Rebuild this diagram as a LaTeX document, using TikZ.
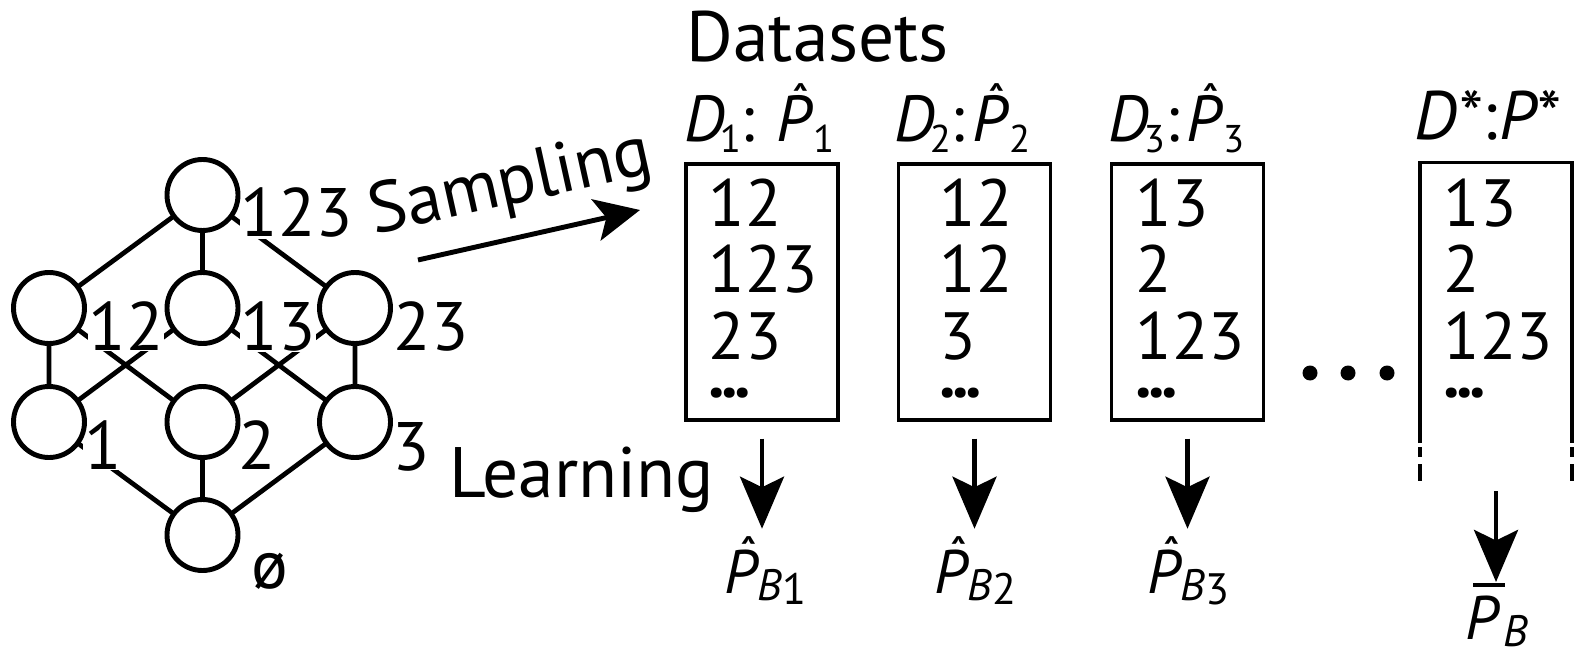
\documentclass[tikz,border=0pt]{standalone}
\usepackage{fontspec}
\setmainfont{PT Sans}
\usetikzlibrary{arrows.meta,calc}
\newcommand\hatP{\ooalign{\textit{P}\cr\hidewidth\kern0.2em\raisebox{0.42em}{\fontsize{12}{12}\selectfont\bfseries\symbol{"02C6}}\hidewidth\cr}}
\newcommand\barP{\ooalign{\textit{P}\cr\kern0.12em\rule[0.84em]{0.52em}{1.1pt}\cr}}
\newcommand\sbx[1]{\raisebox{-0.16em}{\fontsize{11}{11}\selectfont #1}}
\newcommand\sbb[1]{\raisebox{-2pt}{\fontsize{12.5}{12.5}\selectfont #1}}
\begin{document}
\begin{tikzpicture}[x=0.01cm,y=-0.01cm,
  vtx/.style={circle,minimum size=0.71cm,inner sep=0pt},
  ring/.style={line width=1.4pt},
  edge/.style={line width=1.35pt},
  lab/.style={fill=white,inner sep=0.3pt,font=\fontsize{19.5}{19.5}\selectfont},
  box/.style={draw,line width=0.95pt,minimum width=1.52cm,minimum height=2.56cm,inner sep=0pt},
  item/.style={anchor=base west,inner sep=0pt,font=\fontsize{19}{19}\selectfont},
  head/.style={anchor=base west,inner sep=0pt,font=\fontsize{18.5}{18.5}\selectfont},
  res/.style={anchor=base west,inner sep=0pt,font=\fontsize{17.5}{17.5}\selectfont},
  word/.style={anchor=base west,inner sep=0pt,font=\fontsize{20.3}{20.3}\selectfont},
  arr/.style={line width=1.3pt,-{Stealth[length=14.8pt,width=12.5pt,inset=3pt]}},
  sarr/.style={line width=1.4pt,-{Stealth[length=12.8pt,width=12pt,inset=3pt]}}]
\useasboundingbox (0,0) rectangle (1583,655);

% lattice
\node[vtx] (v123) at (202.5,195) {};
\node[vtx] (v12) at (49,308) {};
\node[vtx] (v13) at (202.5,308) {};
\node[vtx] (v23) at (355,308) {};
\node[vtx] (v1) at (49,422) {};
\node[vtx] (v2) at (202.5,422) {};
\node[vtx] (v3) at (355,422) {};
\node[vtx] (v0) at (202.5,535) {};
\draw[edge] (v123)--(v12) (v123)--(v13) (v123)--(v23)
  (v12)--(v1) (v12)--(v2) (v13)--(v1) (v13)--(v3)
  (v23)--(v2) (v23)--(v3) (v1)--(v0) (v2)--(v0) (v3)--(v0);
\node[lab] (l123) at (297,213) {123};
\node[lab] (l12) at (126,326) {12};
\node[lab] (l13) at (278,326) {13};
\node[lab] (l23) at (431,326) {23};
\node[lab] (l1) at (103,445) {1};
\node[lab] (l2) at (257,445) {2};
\node[lab] (l3) at (411,447) {3};
\node[lab] (l0) at (270,571) {ø};
\foreach \v in {v123,v12,v13,v23,v1,v2,v3,v0}
  \draw[ring] (\v.center) circle (35.5);

% sampling
\node[word,rotate=12.5] (samp) at (374,235) {Sampling};
\coordinate (s0) at (418,260);
\coordinate (s1) at (640,210);
\draw[sarr] (s0) -- (s1);

% datasets
\node[word] (ds) at (686,62) {Datasets};
\node[head] (h1) at (684,142) {\textit{D}\kern-1.5pt\sbx{1}:\kern6pt\hatP\sbx{1}};
\node[head] (h2) at (894,142) {\textit{D}\kern-1.5pt\sbx{2}:\kern2pt\hatP\sbx{2}};
\node[head] (h3) at (1108,142) {\textit{D}\kern-1.5pt\sbx{3}:\kern2pt\hatP\sbx{3}};
\node[head,font=\fontsize{19.5}{19.5}\selectfont] (h4) at (1414,140) {\textit{D*}\kern0.5pt:\kern0.5pt\textit{P*}};

\node[box] (b1) at (762,292) {};
\node[box] (b2) at (974.5,292) {};
\node[box] (b3) at (1187.5,292) {};
\draw[line width=0.95pt] (1420,443) -- (1420,162.5) -- (1572,162.5) -- (1572,443);
\draw[line width=0.95pt] (1420,447)--(1420,457) (1420,464)--(1420,481)
  (1572,447)--(1572,457) (1572,464)--(1572,481);
\coordinate (b4) at (1496,420);

\foreach \n/\x/\a/\b/\c in {1/708/12/123/23, 2/939/12/12/3, 3/1135/13/2/123, 4/1443/13/2/123}{
  \node[item] (t\n-a) at (\x,227) {\a};
  \node[item] (t\n-b) at (\x,293) {\b};
  \node[item] (t\n-c) at (\x,360) {\c};
  \node[item] (t\n-d) at (\x,397) {\textbf{.\kern-1pt.\kern-1pt.}};
}
\fill (1310,373) circle (7.5) (1348,373) circle (7.5) (1387,373) circle (7.5);

% learning
\node[word] (learn) at (449,497) {Learning};
\draw[arr] ($(b1.south)+(0,17)$) -- ($(b1.south)+(0,107)$);
\draw[arr] ($(b2.south)+(0,17)$) -- ($(b2.south)+(0,107)$);
\draw[arr] ($(b3.south)+(0,17)$) -- ($(b3.south)+(0,107)$);
\draw[arr] ($(b4)+(0,71)$) -- ($(b4)+(0,162)$);
\node[res] (p1) at (724,593) {\hatP\kern-0.5pt\sbb{\textit{B}\raisebox{-1.4pt}{1}}};
\node[res] (p2) at (934,593) {\hatP\kern-0.5pt\sbb{\textit{B}\raisebox{-1.4pt}{2}}};
\node[res] (p3) at (1147,593) {\hatP\kern-0.5pt\sbb{\textit{B}\raisebox{-1.4pt}{3}}};
\node[res] (p4) at (1465,639) {\barP\kern-0.5pt\sbb{\textit{B}}};
\end{tikzpicture}
\end{document}
